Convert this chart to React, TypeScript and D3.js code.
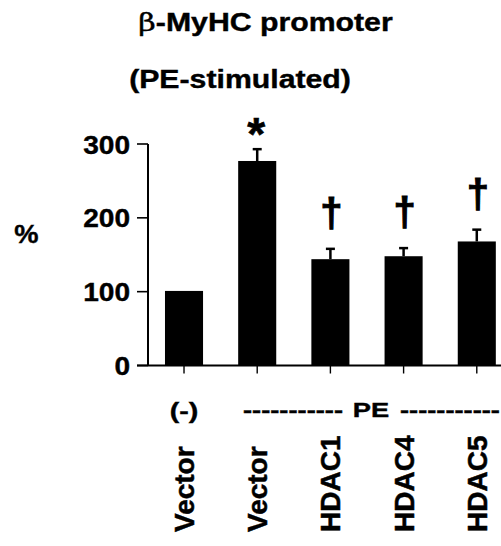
import * as d3 from "d3";

// values (% of unstimulated vector)
const groups = ["(-)", "PE", "PE", "PE", "PE"];
const labels = ["Vector", "Vector", "HDAC1", "HDAC4", "HDAC5"];
const means = [101, 277, 144, 148, 168];
const sems = [0, 16, 14, 11, 16];
const marks = ["", "*", "†", "†", "†"];
const yTicks = [0, 100, 200, 300];

const W = 501;
const H = 546;
const FONT = "'Liberation Sans', Arial, sans-serif";

function SText({
  x,
  y,
  sx = 1,
  size,
  anchor = "middle",
  rotate = 0,
  children,
  weight = "bold",
  heavy = 0,
}: {
  x: number;
  y: number;
  sx?: number;
  size: number;
  anchor?: string;
  rotate?: number;
  weight?: string;
  heavy?: number;
  children: any;
}) {
  return (
    <text
      transform={`translate(${x},${y}) scale(${sx},1)${rotate ? ` rotate(${rotate})` : ""}`}
      fontFamily={FONT}
      fontWeight={weight}
      fontSize={size}
      textAnchor={anchor}
      fill="#000"
      stroke={heavy ? "#000" : "none"}
      strokeWidth={heavy}
    >
      {children}
    </text>
  );
}

export default function App() {
  const idx = labels.map((_, i) => String(i));
  const x = d3
    .scaleBand<string>()
    .domain(idx)
    .range([148, 512.8])
    .paddingInner(0.48)
    .paddingOuter(0.232);
  const y = d3.scaleLinear().domain([0, 300]).range([365.5, 144]);
  const bw = x.bandwidth();
  const cx = (i: number) => (x(String(i)) ?? 0) + bw / 2;

  return (
    <div style={{ position: "absolute", left: 0, top: 0 }}>
      <style>{`body{margin:0}`}</style>
      <svg width={W} height={H} style={{ display: "block", background: "#fff" }}>
        {/* titles */}
        <SText x={265.5} y={31} size={25} sx={1.21} heavy={0.4}>
          <tspan fontWeight="normal" fontFamily="'DejaVu Serif', serif">β</tspan>
          -MyHC promoter
        </SText>
        <SText x={240} y={88} size={25} sx={1.21} heavy={0.4}>
          (PE-stimulated)
        </SText>

        {/* y axis */}
        <line x1={148} x2={148} y1={y(0)} y2={y(300)} stroke="#000" strokeWidth={2} />
        {yTicks.map((t) => (
          <g key={t}>
            <line x1={137} x2={148} y1={y(t)} y2={y(t)} stroke="#000" strokeWidth={1.6} />
            <SText x={130} y={y(t) + 9.5} size={26} sx={1.08} anchor="end" heavy={0.4}>
              {t}
            </SText>
          </g>
        ))}
        <SText x={26.5} y={243} size={26} sx={1.05} heavy={0.4}>
          %
        </SText>

        {/* baseline */}
        <line x1={137} x2={W} y1={y(0)} y2={y(0)} stroke="#000" strokeWidth={2} />

        {/* bars */}
        {means.map((m, i) => {
          const top = y(m + sems[i]);
          return (
            <g key={i}>
              <rect x={x(String(i))} y={y(m)} width={bw} height={y(0) - y(m)} fill="#000" />
              {sems[i] > 0 && (
                <>
                  <line x1={cx(i)} x2={cx(i)} y1={y(m)} y2={top} stroke="#000" strokeWidth={2.5} />
                  <line x1={cx(i) - 4.5} x2={cx(i) + 4.5} y1={top} y2={top} stroke="#000" strokeWidth={2.5} />
                </>
              )}
              <line x1={cx(i)} x2={cx(i)} y1={y(0)} y2={y(0) + 8} stroke="#000" strokeWidth={1.4} />
              {marks[i] === "*" && (
                <SText x={cx(i) - 1} y={top + 1} size={46} heavy={0.6}>
                  *
                </SText>
              )}
              {marks[i] === "†" && (
                <SText x={cx(i) + 1} y={top - 22} size={40} heavy={1}>
                  †
                </SText>
              )}
              <SText x={cx(i) + 10} y={532} size={28} anchor="start" rotate={-90} heavy={0.5}>
                {labels[i]}
              </SText>
            </g>
          );
        })}

        {/* group labels */}
        <SText x={cx(0)} y={418} size={22} sx={1.3} heavy={0.4}>
          {groups[0]}
        </SText>
        <SText x={343} y={417} size={21} sx={1.3} anchor="end" heavy={0.4}>
          -----------
        </SText>
        <SText x={371} y={417} size={21} sx={1.3} heavy={0.4}>
          {groups[1]}
        </SText>
        <SText x={400} y={417} size={21} sx={1.3} anchor="start" heavy={0.4}>
          -----------
        </SText>
      </svg>
    </div>
  );
}
